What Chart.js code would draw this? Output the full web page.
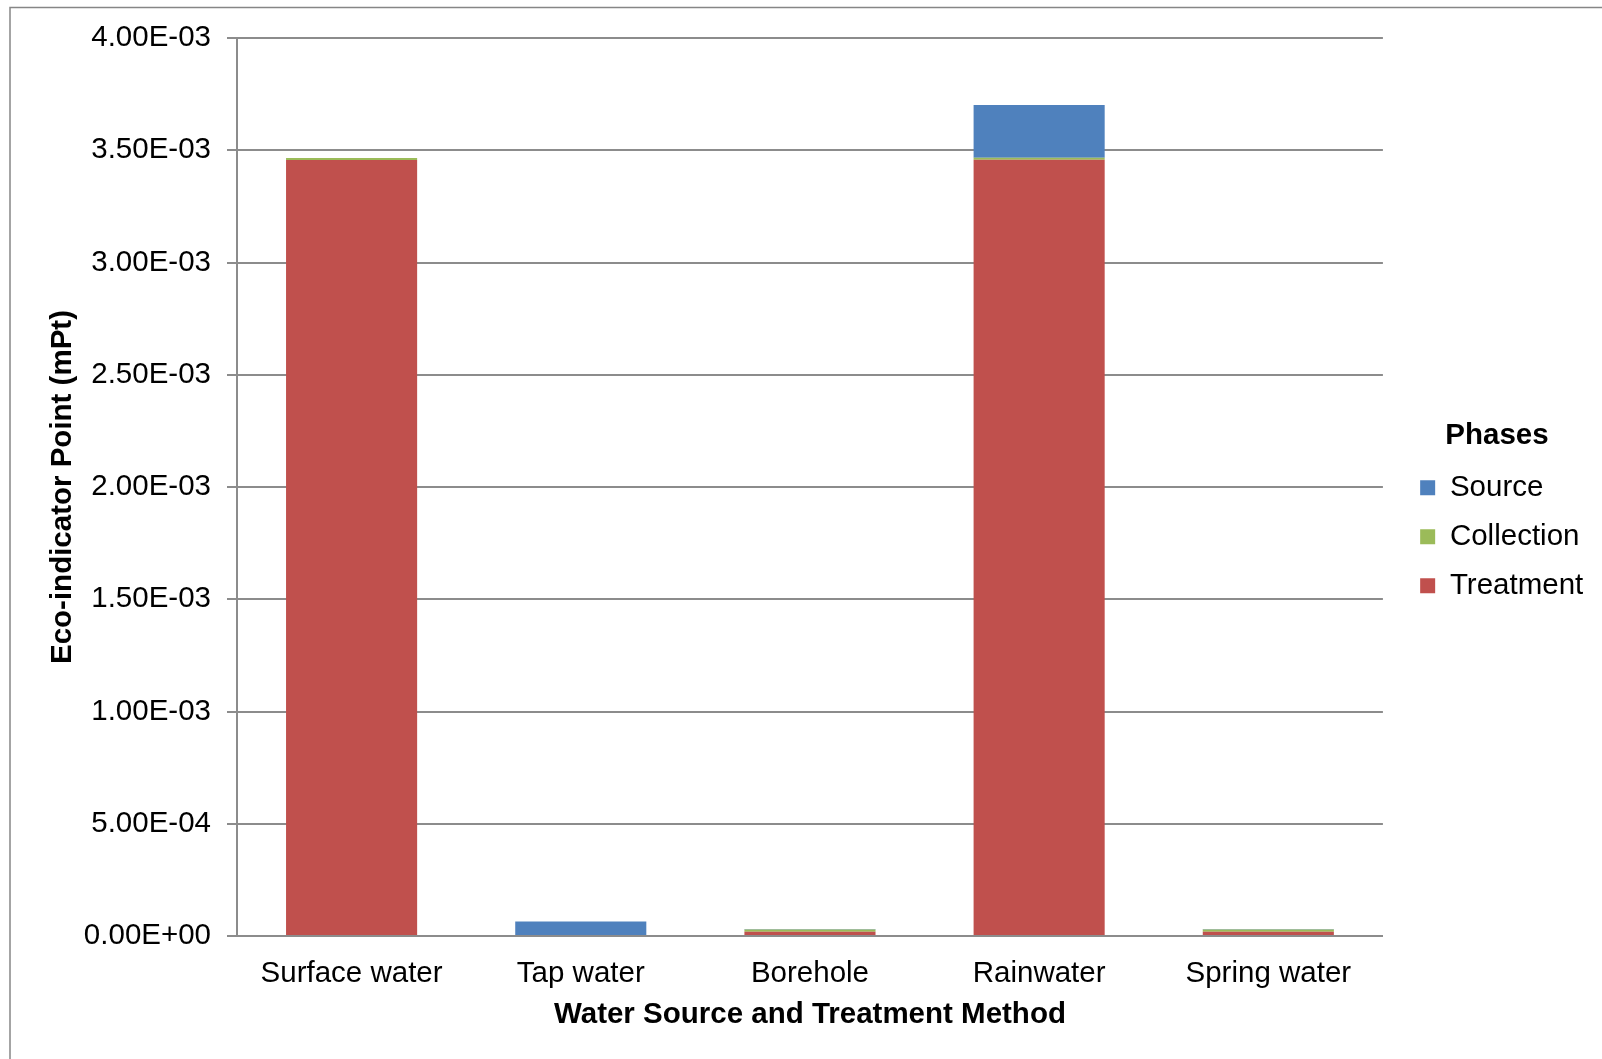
<!DOCTYPE html>
<html><head><meta charset="utf-8">
<script src="https://cdn.jsdelivr.net/npm/chart.js@4/dist/chart.umd.min.js"></script>
<style>html,body{margin:0;padding:0;background:#fff;overflow:hidden}canvas{display:block}</style>
</head><body>
<canvas id="c" width="1602" height="1059"></canvas>
<script>
const categories = ['Surface water', 'Tap water', 'Borehole', 'Rainwater', 'Spring water'];
const treatment  = [3.457e-3, 0, 1.9e-5, 3.458e-3, 1.9e-5];
const collection = [9e-6, 0, 1.0e-5, 9e-6, 1.0e-5];
const source     = [0, 6.5e-5, 2e-6, 2.35e-4, 2e-6];
const yTickLabels = ['0.00E+00','5.00E-04','1.00E-03','1.50E-03','2.00E-03','2.50E-03','3.00E-03','3.50E-03','4.00E-03'];

const FONT = 'Liberation Sans, Arial, sans-serif';
const FS = 29.5;
const GRID = '#8c8c8c';

const frame = {
  id: 'frame',
  afterDraw(chart) {
    const ctx = chart.ctx;
    ctx.save();
    ctx.strokeStyle = '#868686';
    ctx.lineWidth = 1.5;
    ctx.strokeRect(10, 7.5, 1800, 1200);
    ctx.restore();
  }
};

new Chart(document.getElementById('c'), {
  type: 'bar',
  data: {
    labels: categories,
    datasets: [
      { label: 'Treatment', data: treatment, backgroundColor: '#C0504D', borderWidth: 0 },
      { label: 'Collection', data: collection, backgroundColor: '#9BBB59', borderWidth: 0 },
      { label: 'Source', data: source, backgroundColor: '#4F81BD', borderWidth: 0 }
    ]
  },
  options: {
    responsive: false,
    animation: false,
    devicePixelRatio: 1,
    datasets: { bar: { categoryPercentage: 1, barPercentage: 0.572 } },
    layout: { padding: { top: 38, right: 8.75, bottom: 0, left: 0 } },
    plugins: {
      tooltip: { enabled: false },
      legend: {
        position: 'right',
        align: 'start',
        reverse: true,
        title: {
          display: true, text: 'Phases', color: '#000',
          font: { family: FONT, size: FS, weight: 'bold', lineHeight: 1 },
          padding: { top: 383, bottom: 3 }
        },
        labels: {
          color: '#000',
          font: { family: FONT, size: FS },
          boxWidth: 15, boxHeight: 15, padding: 19.5
        }
      }
    },
    scales: {
      x: {
        stacked: true,
        grid: { display: false, drawTicks: false },
        border: { display: true, color: GRID, width: 2 },
        ticks: { color: '#000', font: { family: FONT, size: FS }, padding: 20 },
        title: {
          display: true, text: 'Water Source and Treatment Method', color: '#000',
          font: { family: FONT, size: FS, weight: 'bold' },
          padding: { top: 0, bottom: 26 }
        },
        afterFit(s) { s.height = 123; }
      },
      y: {
        stacked: true,
        min: 0, max: 0.004,
        ticks: {
          stepSize: 0.0005, color: '#000', font: { family: FONT, size: FS }, padding: 16,
          callback: (v, i) => yTickLabels[i]
        },
        grid: { color: GRID, lineWidth: 2, tickLength: 10, drawTicks: true },
        border: { display: true, color: GRID, width: 2 },
        title: {
          display: true, text: 'Eco-indicator Point (mPt)', color: '#000',
          font: { family: FONT, size: FS, weight: 'bold' },
          padding: { top: 45, bottom: 0 }
        },
        afterFit(s) { s.width = 237; }
      },
      spacer: {
        type: 'linear', position: 'right', display: true,
        ticks: { display: false }, grid: { display: false }, border: { display: false },
        afterFit(s) { s.width = 17.75; }
      }
    }
  },
  plugins: [frame]
});
</script>
</body></html>
